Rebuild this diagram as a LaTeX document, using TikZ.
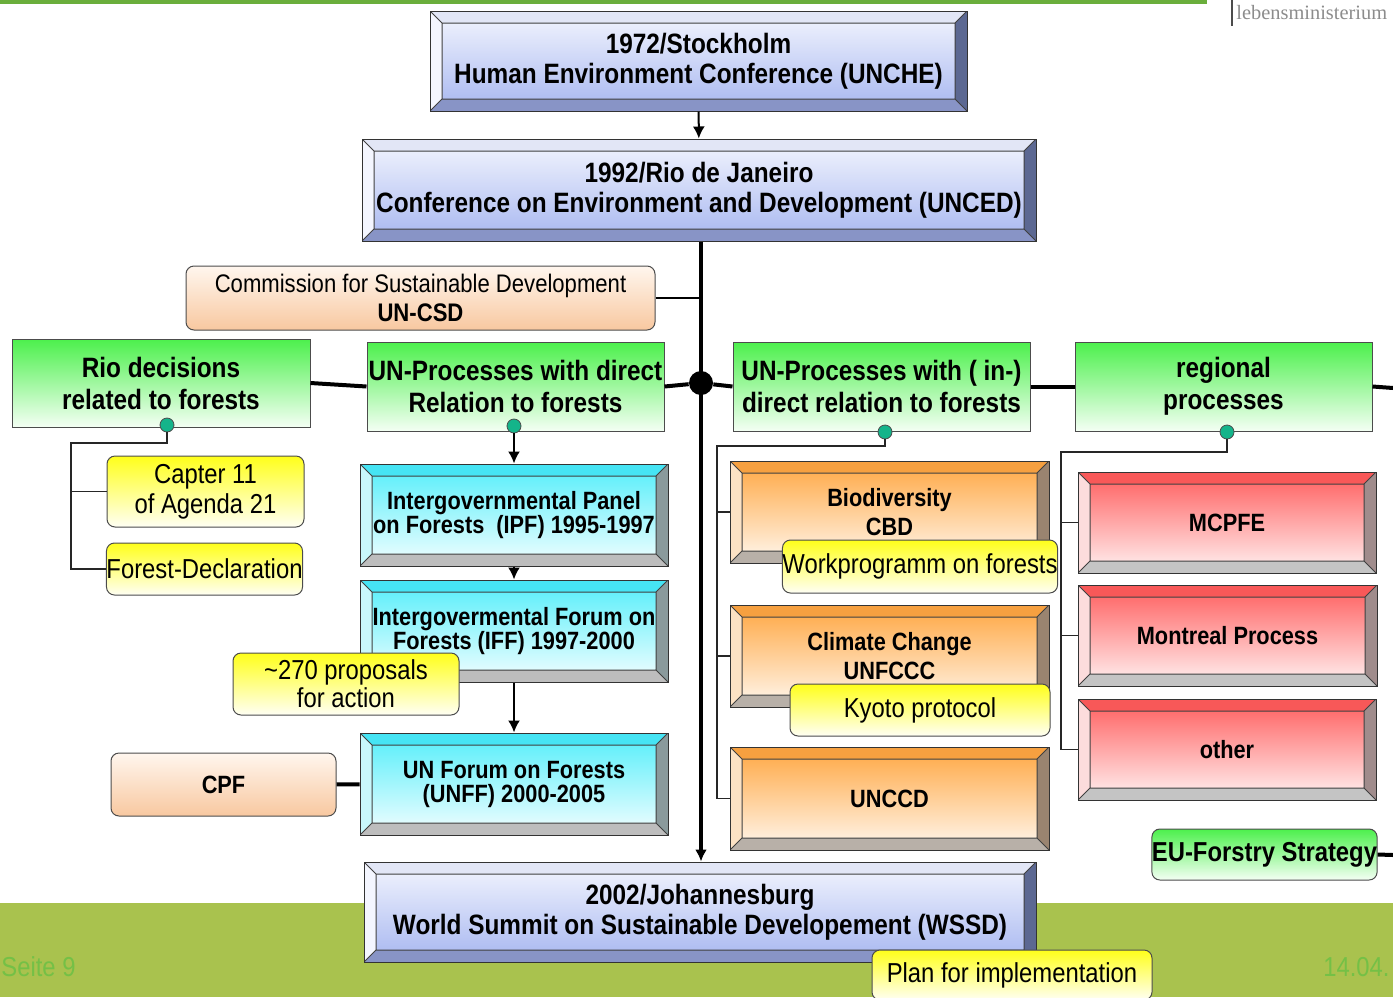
\documentclass[tikz,border=0pt]{standalone}
\usepackage{fontspec}
\setmainfont{Liberation Sans}
\newfontfamily\narrowsans[FakeStretch=0.87]{Liberation Sans}
\newfontfamily\logofont{Liberation Serif}
\usetikzlibrary{arrows.meta}

\definecolor{bandgreen}{HTML}{A9C24E}
\definecolor{linegreen}{HTML}{6AAE3C}
\definecolor{footgreen}{HTML}{74C046}
\definecolor{bluetop}{HTML}{F4F6FE}
\definecolor{bluebot}{HTML}{A6B6F0}
\definecolor{blueT}{HTML}{E2E6F6}
\definecolor{blueL}{HTML}{F4F6FF}
\definecolor{blueR}{HTML}{5C6892}
\definecolor{blueB}{HTML}{8894C6}
\definecolor{cyantop}{HTML}{52EEFA}
\definecolor{cyanbot}{HTML}{F4FEFF}
\definecolor{cyanT}{HTML}{46E4F4}
\definecolor{cyanL}{HTML}{C8F8FC}
\definecolor{cyanR}{HTML}{8A9A9C}
\definecolor{cyanB}{HTML}{BDBDBD}
\definecolor{orgtop}{HTML}{FFA640}
\definecolor{orgbot}{HTML}{FFF8F0}
\definecolor{orgT}{HTML}{F6A040}
\definecolor{orgL}{HTML}{FCE2C4}
\definecolor{orgR}{HTML}{9A8470}
\definecolor{orgB}{HTML}{B8B0A8}
\definecolor{redtop}{HTML}{FF5C5C}
\definecolor{redbot}{HTML}{FFF4F4}
\definecolor{redT}{HTML}{F85858}
\definecolor{redL}{HTML}{FCDCDC}
\definecolor{redR}{HTML}{A08C8C}
\definecolor{redB}{HTML}{C4C4C4}
\definecolor{greentop}{HTML}{4CF04C}
\definecolor{greenbot}{HTML}{F4FFF4}
\definecolor{yeltop}{HTML}{FFFF1A}
\definecolor{yelbot}{HTML}{FFFFF4}
\definecolor{peachtop}{HTML}{FFF6EE}
\definecolor{peachbot}{HTML}{F8C8A0}
\definecolor{tealdot}{HTML}{14B48A}

\newcommand{\bvw}{6pt}
\tikzset{
  wh/.style 2 args={minimum width=#1*0.5pt, minimum height=#2*0.5pt},
  bevel/.style n args={6}{draw=black!80, line width=0.5pt, inner sep=0pt, align=center,
    top color=#1, bottom color=#2,
    path picture={
      \path (path picture bounding box.north west) coordinate (bvA)
            (path picture bounding box.north east) coordinate (bvB)
            (path picture bounding box.south east) coordinate (bvC)
            (path picture bounding box.south west) coordinate (bvD);
      \path ([shift={(\bvw,-\bvw)}]bvA) coordinate (bvE)
            ([shift={(-\bvw,-\bvw)}]bvB) coordinate (bvF)
            ([shift={(-\bvw,\bvw)}]bvC) coordinate (bvG)
            ([shift={(\bvw,\bvw)}]bvD) coordinate (bvH);
      \fill[#3] (bvA) -- (bvB) -- (bvF) -- (bvE) -- cycle;
      \fill[#4] (bvA) -- (bvE) -- (bvH) -- (bvD) -- cycle;
      \fill[#5] (bvB) -- (bvC) -- (bvG) -- (bvF) -- cycle;
      \fill[#6] (bvD) -- (bvH) -- (bvG) -- (bvC) -- cycle;
      \draw[black!75, line width=0.5pt] (bvE) -- (bvF) -- (bvG) -- (bvH) -- cycle
        (bvA) -- (bvE) (bvB) -- (bvF) (bvC) -- (bvG) (bvD) -- (bvH);
    }},
  bluebox/.style={bevel={bluetop}{bluebot}{blueT}{blueL}{blueR}{blueB},
    font=\narrowsans\bfseries\fontsize{14}{15}\selectfont},
  cyanbox/.style={bevel={cyantop}{cyanbot}{cyanT}{cyanL}{cyanR}{cyanB},
    font=\narrowsans\bfseries\fontsize{12.5}{12}\selectfont},
  orangebox/.style={bevel={orgtop}{orgbot}{orgT}{orgL}{orgR}{orgB},
    font=\narrowsans\bfseries\fontsize{12.5}{14.5}\selectfont},
  redbox/.style={bevel={redtop}{redbot}{redT}{redL}{redR}{redB},
    font=\narrowsans\bfseries\fontsize{12.5}{14.5}\selectfont},
  greenbox/.style={draw=black!70, line width=0.5pt, inner sep=0pt, align=center,
    top color=greentop, bottom color=greenbot,
    font=\narrowsans\bfseries\fontsize{14}{16}\selectfont},
  notebox/.style={draw=black!70, line width=0.5pt, inner sep=0pt, align=center,
    rounded corners=4pt, top color=yeltop, bottom color=yelbot,
    font=\narrowsans\fontsize{13.7}{15}\selectfont},
  peachbox/.style={draw=black!70, line width=0.5pt, inner sep=0pt, align=center,
    rounded corners=4pt, top color=peachtop, bottom color=peachbot},
  tdot/.style={circle, draw=black!70, line width=0.4pt, fill=tealdot, minimum size=7pt, inner sep=0pt},
  jdot/.style={circle, fill=black, minimum size=12pt, inner sep=0pt},
  bar/.style={line width=2pt},
  trunk/.style={line width=1.6pt},
  link/.style={line width=1pt},
  twig/.style={line width=0.7pt, draw=black!85}
}

\begin{document}
\begin{tikzpicture}[x=0.5pt,y=-0.5pt,>={Latex[length=6pt,width=6pt]}]
\useasboundingbox (0,0) rectangle (1393,997);
% page frame
\fill[bandgreen] (0,903) rectangle (1393,997);
\fill[linegreen] (0,0) rectangle (1207,3.5);
\draw[black!70, line width=0.8pt] (1232,0) -- (1232,26);
\node[anchor=west, inner sep=0pt, text=black!45, font=\logofont\fontsize{10.2}{12}\selectfont] (logo) at (1236,13) {lebensministerium};
\node[anchor=west, inner sep=0pt, text=footgreen, font=\narrowsans\fontsize{13.7}{14}\selectfont] (seite) at (1,967) {Seite 9};
\node[anchor=east, inner sep=0pt, text=footgreen, font=\narrowsans\fontsize{13.7}{14}\selectfont] (datum) at (1390,967) {14.04.};

% conferences
\node[bluebox, wh={537}{100}] (unche) at (698.5,61) {1972/Stockholm\\Human Environment Conference (UNCHE)};
\node[bluebox, wh={674}{102}] (unced) at (699,190) {1992/Rio de Janeiro\\Conference on Environment and Development (UNCED)};
\node[bluebox, wh={672}{100}] (wssd) at (700,912) {2002/Johannesburg\\World Summit on Sustainable Developement (WSSD)};
\node[notebox, wh={280}{50}] (plan) at (1012,975) {Plan for implementation};
\node[peachbox, wh={469}{64}, font=\narrowsans\fontsize{12.7}{14.5}\selectfont] (csd) at (420.5,298) {Commission for Sustainable Development\\\textbf{UN-CSD}};

% main groups
\node[greenbox, wh={298}{88}] (rio) at (161,383) {Rio decisions\\related to forests};
\node[greenbox, wh={297}{89}] (undir) at (515.5,386.5) {UN-Processes with direct\\Relation to forests};
\node[greenbox, wh={297}{89}] (unind) at (881.5,386.5) {UN-Processes with ( in-)\\direct relation to forests};
\node[greenbox, wh={297}{89}] (regio) at (1223.5,386.5) {regional\\processes};
\node[jdot] (jd) at (701,383) {};
\node[tdot] (rioD) at (167,425) {};
\node[tdot] (undirD) at (514,426) {};
\node[tdot] (unindD) at (885,432) {};
\node[tdot] (regD) at (1227,432) {};
\coordinate (regEnd) at (1393,388);

% Rio decisions
\node[notebox, wh={197}{71}] (capter) at (205.5,491.5) {Capter 11\\of Agenda 21};
\node[notebox, wh={195}{52}] (fdecl) at (204.5,569) {Forest-Declaration};
\coordinate (rioT) at (71,443);

% direct UN processes
\node[cyanbox, wh={308}{102}] (ipf) at (514,515) {Intergovernmental Panel\\on Forests\ \ (IPF) 1995-1997};
\node[cyanbox, wh={308}{102}] (iff) at (514,631) {Intergovermental Forum on\\Forests (IFF) 1997-2000};
\node[notebox, wh={226}{62}, font=\narrowsans\fontsize{13.7}{14}\selectfont] (prop) at (346,684) {\textasciitilde 270 proposals\\for action};
\node[cyanbox, wh={308}{102}] (unff) at (514,784) {UN Forum on Forests\\(UNFF) 2000-2005};
\node[peachbox, wh={225}{63}, font=\narrowsans\bfseries\fontsize{12.5}{14}\selectfont] (cpf) at (223.5,784.5) {CPF};

% indirect UN processes
\node[orangebox, wh={319}{102}] (cbd) at (889.5,512) {Biodiversity\\CBD};
\node[notebox, wh={260}{53}] (wprog) at (920,566.5) {Workprogramm on forests};
\node[orangebox, wh={319}{102}] (unfccc) at (889.5,656) {Climate Change\\UNFCCC};
\node[notebox, wh={260}{52}] (kyoto) at (920,710) {Kyoto protocol};
\node[orangebox, wh={319}{103}] (unccd) at (889.5,798.5) {UNCCD};
\coordinate (unindT) at (717,446);

% regional processes
\node[redbox, wh={298}{101}] (mcpfe) at (1227,522.5) {MCPFE};
\node[redbox, wh={299}{101}] (montreal) at (1227.5,635.5) {Montreal Process};
\node[redbox, wh={298}{101}] (other) at (1227,749.5) {other};
\coordinate (regT) at (1061,452);
\node[greenbox, wh={225}{51}, rounded corners=4pt, font=\narrowsans\bfseries\fontsize{13.7}{14}\selectfont] (eufs) at (1264.5,854.5) {EU-Forstry Strategy};
\coordinate (eufsEnd) at (1393,855);

% connections
\draw[link,->] (unche) -- (unced);
\draw[trunk,->] (unced.south -| jd) -- (wssd.north -| jd);
\draw[link] (csd.east) -- (csd.east -| jd);
\draw[bar] (rio.east) -- (undir.west);
\draw[bar] (undir.east) -- (jd) -- (unind.west);
\draw[bar] (unind.east) -- (regio.west);
\draw[bar] (regio.east) -- (regEnd);
\draw[bar] (eufs.east) -- (eufsEnd);
\draw[twig] (rioD) |- (rioT) |- (capter.west);
\draw[twig] (rioT) |- (fdecl.west);
\draw[link,->] (undirD) -- (ipf);
\draw[link,->] (ipf) -- (iff);
\draw[link,->] (iff) -- (unff);
\draw[bar] (cpf) -- (unff);
\draw[twig] (unindD) |- (unindT) |- (cbd.west);
\draw[twig] (unindT) |- (unfccc.west);
\draw[twig] (unindT) |- (unccd.west);
\draw[twig] (regD) |- (regT) |- (mcpfe.west);
\draw[twig] (regT) |- (montreal.west);
\draw[twig] (regT) |- (other.west);
\end{tikzpicture}
\end{document}
